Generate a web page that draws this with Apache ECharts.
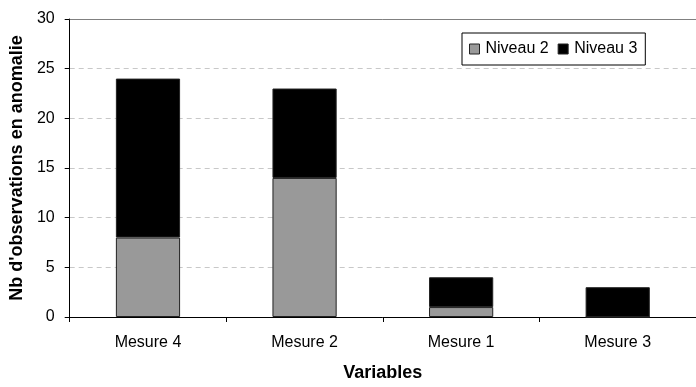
<!DOCTYPE html>
<html>
<head>
<meta charset="utf-8">
<script src="https://cdn.jsdelivr.net/npm/echarts@6/dist/echarts.min.js"></script>
<style>
html,body{margin:0;padding:0;background:#fff;}
#chart{width:696px;height:387px;}
</style>
</head>
<body>
<div id="chart"></div>
<script>
const categories = ['Mesure 4', 'Mesure 2', 'Mesure 1', 'Mesure 3'];
const niveau2 = [8, 14, 1, 0];
const niveau3 = [16, 9, 3, 3];
const seriesNames = ['Niveau 2', 'Niveau 3'];
const yTicks = {min: 0, max: 30, interval: 5};

const FONT = "Arial, 'Liberation Sans', sans-serif";
const chart = echarts.init(document.getElementById('chart'), null, {renderer: 'canvas'});
chart.setOption({
  animation: false,
  backgroundColor: '#ffffff',
  textStyle: {fontFamily: FONT, color: '#000'},
  grid: {left: 68, right: 0, top: 19, bottom: 64, containLabel: false},
  legend: {
    data: seriesNames,
    left: 462, top: 33,
    padding: [8, 8, 8, 7],
    itemWidth: 10, itemHeight: 10, itemGap: 9,
    icon: 'rect',
    borderColor: '#000', borderWidth: 1, backgroundColor: '#fff',
    textStyle: {fontSize: 16, color: '#000', fontFamily: FONT, padding: [0, 0, 0, 1]},
    itemStyle: {borderColor: '#222', borderWidth: 1}
  },
  xAxis: [{
    type: 'category',
    data: categories,
    name: 'Variables',
    nameLocation: 'middle',
    nameGap: 47,
    nameTextStyle: {fontSize: 18, fontWeight: 'bold', color: '#000', fontFamily: FONT},
    axisLine: {lineStyle: {color: '#000', width: 1}},
    axisTick: {show: true, length: 5, lineStyle: {color: '#000'}},
    axisLabel: {fontSize: 16, color: '#000', margin: 18, fontFamily: FONT},
    splitLine: {show: false}
  }, {
    type: 'category',
    data: categories,
    position: 'top',
    axisLine: {lineStyle: {color: '#808080', width: 1}},
    axisTick: {show: false},
    axisLabel: {show: false},
    splitLine: {show: false}
  }],
  yAxis: {
    type: 'value',
    min: yTicks.min, max: yTicks.max, interval: yTicks.interval,
    name: "Nb d'observations en anomalie",
    nameLocation: 'middle',
    nameGap: 38,
    nameTextStyle: {fontSize: 18, fontWeight: 'bold', color: '#000', fontFamily: FONT},
    axisLine: {show: true, lineStyle: {color: '#000', width: 1}},
    axisTick: {show: true, length: 5, lineStyle: {color: '#000'}},
    axisLabel: {fontSize: 16, color: '#000', margin: 15, fontFamily: FONT},
    splitLine: {show: true, lineStyle: {color: '#c8c8c8', type: [5, 4], width: 1}}
  },
  series: [{
    name: seriesNames[0],
    type: 'bar',
    stack: 'total',
    data: niveau2,
    barCategoryGap: '59%',
    itemStyle: {color: '#999999', borderColor: '#222', borderWidth: 1}
  }, {
    name: seriesNames[1],
    type: 'bar',
    stack: 'total',
    data: niveau3,
    barCategoryGap: '59%',
    itemStyle: {color: '#000000', borderColor: '#222', borderWidth: 1}
  }]
});
</script>
</body>
</html>
